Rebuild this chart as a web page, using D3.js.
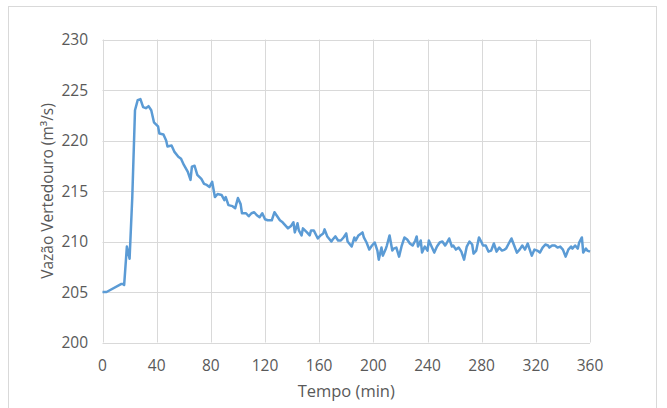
<!DOCTYPE html>
<html>
<head>
<meta charset="utf-8">
<script src="https://cdn.jsdelivr.net/npm/d3@7"></script>
<style>
  body { margin: 0; background: #fff; }
  text { font-family: "Open Sans", "Noto Sans", sans-serif; fill: #595959; }
</style>
</head>
<body>
<div id="chart"></div>
<script>
// tempo (min) and vazão (m3/s)
const tempo = [0, 3, 14, 15, 16, 18, 20, 22, 24, 26, 28, 30, 32, 34, 36, 38, 41, 42, 45, 47, 48, 51, 53, 56, 58, 60,
  63, 65, 66, 68, 70, 73, 75, 77, 79, 81, 83, 85, 88, 90, 91, 93, 96, 98, 100, 102, 103, 106, 108, 110, 112, 114,
  116, 118, 120, 122, 125, 127, 129, 131, 133, 135, 137, 139, 141, 142, 144, 145, 147, 148, 151, 153, 154, 156,
  159, 161, 163, 164, 166, 169, 170, 172, 174, 176, 178, 180, 181, 184, 186, 187, 189, 192, 193, 195, 197, 199,
  201, 203, 204, 206, 207, 209, 210, 212, 214, 215, 217, 219, 221, 223, 225, 227, 229, 231, 232, 233, 235, 236,
  238, 240, 241, 243, 245, 247, 249, 251, 253, 254, 256, 258, 259, 261, 263, 265, 267, 269, 271, 273, 274, 276,
  278, 280, 281, 283, 285, 287, 289, 291, 293, 295, 297, 298, 300, 302, 304, 306, 308, 310, 312, 314, 315, 317,
  319, 321, 323, 325, 327, 329, 330, 332, 334, 336, 338, 340, 342, 344, 346, 347, 349, 351, 352, 354, 355, 357,
  358, 360];
const vazao = [205.0, 205.0, 205.8, 205.8, 205.7, 209.5, 208.3, 214.4, 223.0, 224.0, 224.1, 223.3, 223.2, 223.4,
  223.0, 221.8, 221.4, 220.7, 220.6, 220.0, 219.4, 219.5, 218.9, 218.4, 218.2, 217.6, 216.9, 216.1, 217.4, 217.5,
  216.6, 216.2, 215.7, 215.6, 215.4, 215.9, 214.4, 214.7, 214.6, 214.1, 214.4, 213.6, 213.5, 213.3, 214.3, 213.7,
  212.8, 212.8, 212.5, 212.8, 212.9, 212.6, 212.4, 212.8, 212.2, 212.1, 212.1, 212.9, 212.5, 212.1, 211.9, 211.6,
  211.3, 211.5, 211.9, 210.9, 211.8, 211.1, 210.6, 211.3, 210.9, 210.6, 211.1, 211.1, 210.3, 210.6, 210.8, 211.2,
  210.5, 210.0, 210.2, 210.5, 210.1, 210.1, 210.4, 210.8, 210.0, 209.5, 210.4, 210.1, 210.6, 210.9, 210.4, 209.9,
  209.2, 209.6, 209.9, 209.1, 208.2, 209.4, 208.6, 209.2, 209.6, 210.6, 209.1, 209.3, 209.4, 208.5, 209.6, 210.4,
  210.2, 209.8, 209.6, 210.1, 210.5, 209.5, 210.1, 208.9, 209.5, 209.1, 210.1, 209.5, 208.9, 209.5, 209.9, 210.0,
  209.6, 209.8, 210.3, 209.5, 209.6, 209.2, 209.4, 209.0, 208.2, 209.5, 210.0, 209.7, 208.8, 209.1, 210.4, 209.9,
  209.6, 209.6, 209.0, 209.1, 209.8, 209.0, 209.4, 209.1, 209.2, 209.3, 209.8, 210.3, 209.6, 208.9, 209.2, 209.6,
  209.2, 209.8, 209.4, 208.6, 209.2, 209.1, 208.9, 209.4, 209.7, 209.6, 209.4, 209.6, 209.6, 209.4, 209.5, 209.2,
  208.5, 209.2, 209.5, 209.3, 209.6, 209.3, 209.9, 210.4, 208.9, 209.3, 209.1, 209.0];
const xTicks = [0, 40, 80, 120, 160, 200, 240, 280, 320, 360];
const yTicks = [200, 205, 210, 215, 220, 225, 230];

const width = 667, height = 408;
const margin = {left: 102.5, right: 77, top: 39.5, bottom: 65.5};

const svg = d3.select("#chart").append("svg")
    .attr("width", width)
    .attr("height", height);

svg.append("rect")
    .attr("width", width).attr("height", height)
    .attr("fill", "#fff");

// chart frame
svg.append("rect")
    .attr("x", 8.5).attr("y", 6.5)
    .attr("width", 648).attr("height", 420)
    .attr("fill", "none")
    .attr("stroke", "#d9d9d9");

var x = d3.scaleLinear().domain([0, 360]).range([margin.left, width - margin.right]);
var y = d3.scaleLinear().domain([200, 230]).range([height - margin.bottom, margin.top]);

// grid
svg.append("g").selectAll("line")
    .data(yTicks).enter().append("line")
    .attr("x1", x(0)).attr("x2", x(360))
    .attr("y1", d => Math.round(y(d)) + 0.5).attr("y2", d => Math.round(y(d)) + 0.5)
    .attr("stroke", "#d9d9d9");

svg.append("g").selectAll("line")
    .data(xTicks).enter().append("line")
    .attr("x1", d => Math.round(x(d)) + 0.5).attr("x2", d => Math.round(x(d)) + 0.5)
    .attr("y1", y(230)).attr("y2", y(200))
    .attr("stroke", "#d9d9d9");

// tick labels
svg.append("g").selectAll("text")
    .data(yTicks).enter().append("text")
    .attr("x", 88)
    .attr("y", d => y(d) + 5.5)
    .attr("text-anchor", "end")
    .attr("font-size", "15.5px")
    .text(d => d);

svg.append("g").selectAll("text")
    .data(xTicks).enter().append("text")
    .attr("x", d => x(d))
    .attr("y", 370.5)
    .attr("text-anchor", "middle")
    .attr("font-size", "15.5px")
    .text(d => d);

// axis titles
svg.append("text")
    .attr("x", (x(0) + x(360)) / 2)
    .attr("y", 396.5)
    .attr("text-anchor", "middle")
    .attr("font-size", "16.5px")
    .text("Tempo (min)");

svg.append("text")
    .attr("transform", "translate(52.5," + ((y(200) + y(230)) / 2) + ") rotate(-90)")
    .attr("text-anchor", "middle")
    .attr("font-size", "15.5px")
    .text("Vazão Vertedouro (m³/s)");

// series
var line = d3.line()
    .x((d, i) => x(tempo[i]))
    .y(d => y(d));

svg.append("path")
    .datum(vazao)
    .attr("d", line)
    .attr("fill", "none")
    .attr("stroke", "#5b9bd5")
    .attr("stroke-width", 2.5)
    .attr("stroke-linejoin", "round");
</script>
</body>
</html>
